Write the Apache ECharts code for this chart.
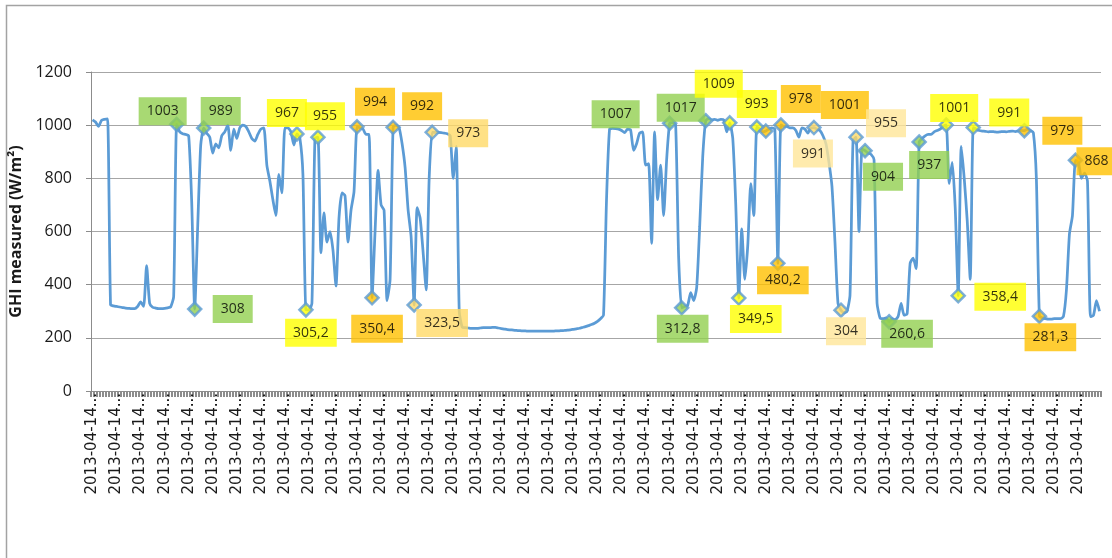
<!DOCTYPE html>
<html>
<head>
<meta charset="utf-8">
<script src="https://cdn.jsdelivr.net/npm/echarts@6/dist/echarts.min.js"></script>
<style>
html,body{margin:0;padding:0;background:#fff;}
#chart{width:1112px;height:558px;}
</style>
</head>
<body>
<div id="chart"></div>
<script>
// ---------- DATA ----------
const dateLabel = '2013-04-14';
const tickLabel = '2013-04-14...';
const yTicks = [0, 200, 400, 600, 800, 1000, 1200];
const ghi = [
1020,1012,995,1018,1022,1024,325,320,318,316,
314,312,311,310,310,318,335,318,472,330,
315,312,310,310,311,313,316,355,1003,975,
968,965,960,712,308,620,925,989,970,955,
895,930,915,960,975,1000,905,985,950,990,
1000,995,975,950,940,965,985,990,850,790,
720,660,815,745,990,990,975,925,967,950,
815,305.2,305,330,950,955,520,670,560,600,
530,395,650,745,735,560,680,750,994,990,
985,965,965,350.4,600,830,700,680,340,420,
992,1000,990,930,840,680,580,323.5,690,650,
520,380,800,973,973,973,972,970,968,960,
800,920,300,240,238,237,236,236,236,237,
238,238,238,239,239,237,235,233,231,230,
229,228,227,226,226,225,225,225,225,225,
225,225,225,225,226,226,227,228,229,230,
232,234,236,239,242,246,250,255,262,272,
285,720,985,988,987,985,980,972,985,982,
905,930,970,975,850,855,555,975,720,850,
660,870,1007,1010,1000,500,312.8,318,322,370,
340,390,620,880,1017,1025,1020,1022,1018,1022,
1020,975,1009,950,700,349.5,610,420,550,780,
660,993,985,975,978,985,990,985,480.2,1001,
995,995,990,990,980,955,990,985,970,990,
991,985,980,960,930,860,770,560,330,304,
295,300,360,940,955,600,910,904,895,890,
870,330,275,272,275,260.6,272,268,280,330,
285,290,480,500,460,937,950,960,965,965,
975,980,985,995,1001,780,860,690,358.4,920,
800,640,420,991,985,980,978,977,975,976,
975,974,975,976,975,977,978,976,978,980,
979,985,980,972,800,281.3,275,272,270,270,
272,272,272,280,380,590,660,868,860,800,
820,790,280,285,340,300
];
const categories = ghi.map(() => dateLabel);
// highlighted points: category index and colour group
const markIdx   = [28,34,37, 68,71,75, 88,93,100, 107,113, 192,196,204, 212,215,221, 224,228,229, 240,249,254, 257,265,275, 284,288,293, 310,315,327];
const markGroup = ['g','g','g','y','y','y','o','o','o','l','l','g','g','g','y','y','y','o','o','o','p','p','p','g','g','g','y','y','y','o','o','o'];

// ---------- STYLE ----------
const groupColor = {g:'#92D050', y:'#FFFF00', o:'#FFC000', l:'#FFD966', p:'#FFE699'};
const groupMarker = {g:'#92D050', y:'#FFFF00', o:'#FFC000', l:'#FFD966', p:'#FFD966'};
const labelOffsets = [[-14,-13],[38,0],[17,-17],[-10,-21],[5,23],[7,-21],[18,-25],[5,31],[29,-21],[28,18],[36,1],
  [-54,-9],[1,21],[-25,-13],[-11,-39],[17,21],[0,-23],[35,-32],[5,17],[64,-20],[-1,26],[5,21],[30,-14],
  [18,26],[18,12],[10,23],[8,-17],[42,1],[36,-15],[38,0],[11,21],[21,1]];

const markData = markIdx.map((idx, k) => ({
  value: [idx, ghi[idx]],
  itemStyle: {color: groupMarker[markGroup[k]]},
  label: {offset: labelOffsets[k], backgroundColor: groupColor[markGroup[k]]}
}));

const chart = echarts.init(document.getElementById('chart'), null, {renderer: 'canvas'});
chart.setOption({
  animation: false,
  backgroundColor: '#ffffff',
  graphic: [{
    type: 'rect', silent: true, z: -1,
    shape: {x: 6.5, y: 5.5, width: 1300, height: 800},
    style: {fill: 'none', stroke: '#a3a3a3', lineWidth: 1.5}
  }],
  grid: {left: 91, right: 11, top: 72, bottom: 167, containLabel: false},
  xAxis: {
    type: 'category',
    data: categories,
    boundaryGap: true,
    axisLine: {show: true, lineStyle: {color: '#8c8c8c', width: 1}},
    axisTick: {show: true, interval: 0, length: 6, lineStyle: {color: '#8c8c8c', width: 2}},
    axisLabel: {
      interval: 7, rotate: 90, margin: 2,
      formatter: () => tickLabel,
      color: '#1a1a1a', fontSize: 15, fontFamily: 'DejaVu Sans'
    },
    splitLine: {show: false}
  },
  yAxis: {
    type: 'value',
    min: yTicks[0], max: yTicks[yTicks.length - 1], interval: 200,
    name: 'GHI measured (W/m²)',
    nameLocation: 'middle', nameRotate: 90, nameGap: 53,
    nameTextStyle: {fontSize: 16, fontWeight: 'bold', fontFamily: 'Open Sans', color: '#1a1a1a'},
    axisLine: {show: true, lineStyle: {color: '#8c8c8c'}},
    axisTick: {show: true, length: 5, lineStyle: {color: '#8c8c8c'}},
    axisLabel: {margin: 19, fontSize: 16, fontFamily: 'Open Sans', color: '#1a1a1a',
      formatter: v => String(v)},
    splitLine: {show: true, lineStyle: {color: '#a6a6a6', width: 1}}
  },
  series: [
    {
      type: 'line',
      data: ghi,
      showSymbol: false,
      smooth: 0.2,
      lineStyle: {color: '#5B9BD5', width: 2.75},
      z: 2
    },
    {
      type: 'scatter',
      data: markData,
      symbol: 'diamond',
      symbolSize: 13,
      itemStyle: {borderColor: '#5B9BD5', borderWidth: 2.5},
      label: {
        show: true, position: 'inside',
        formatter: p => String(p.value[1]).replace('.', ','),
        color: '#000', fontSize: 14, fontFamily: 'Open Sans',
        padding: [6, 8], lineHeight: 16
      },
      z: 3
    }
  ]
});
</script>
</body>
</html>
